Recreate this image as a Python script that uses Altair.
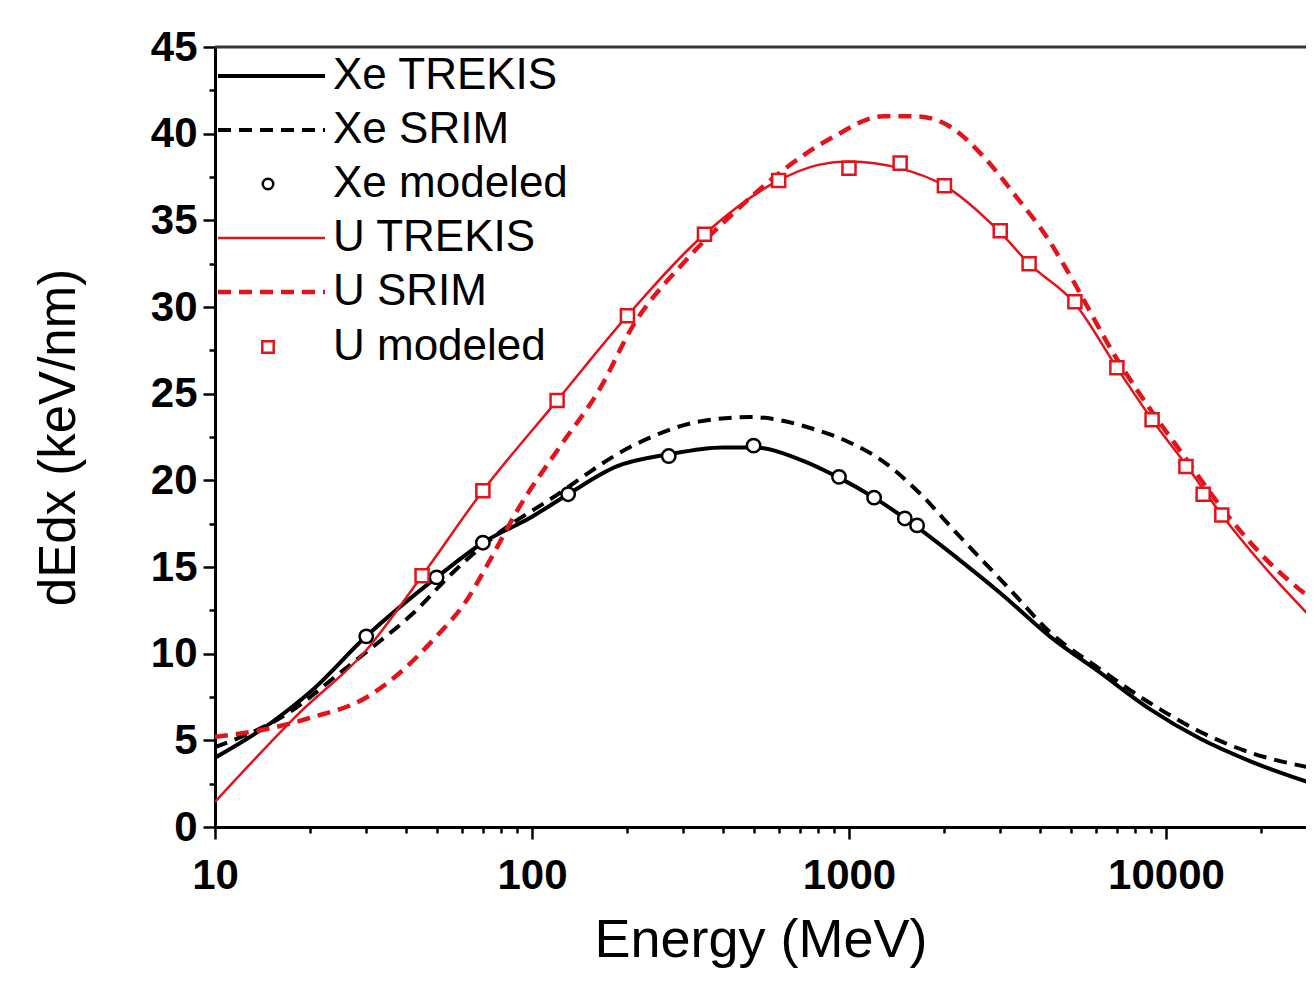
import altair as alt
import pandas as pd

# ---------------- data ----------------
XE_TREKIS_E = [10, 15, 20, 30, 50, 70, 100, 130, 185, 270, 400, 500, 700, 920, 1200, 1640, 2200, 3000, 4300, 6200, 8900, 12800, 18400, 29000]
XE_TREKIS_V = [4.0, 6.0, 7.8, 11.0, 14.4, 16.4, 17.9, 19.2, 20.8, 21.5, 21.9, 21.9, 21.2, 20.2, 19.0, 17.3, 15.5, 13.5, 11.0, 8.9, 6.8, 5.1, 3.8, 2.5]

XE_SRIM_E = [10, 17.6, 24.8, 31.5, 42, 56.4, 79, 114, 208, 339, 488, 792, 1000, 1280, 1640, 2200, 3220, 4300, 6200, 8900, 12800, 18400, 29000]
XE_SRIM_V = [4.6, 6.75, 8.9, 10.4, 12.3, 14.7, 17.0, 18.9, 22.0, 23.4, 23.65, 22.9, 22.2, 21.1, 19.4, 16.9, 13.7, 11.25, 9.1, 7.15, 5.5, 4.3, 3.4]

XE_MOD_E = [30, 50, 70, 130, 270, 500, 930, 1200, 1500, 1640]
XE_MOD_V = [11.0, 14.4, 16.4, 19.2, 21.4, 22.0, 20.2, 19.0, 17.8, 17.4]

U_TREKIS_E = [10, 18.5, 30, 45, 70, 120, 200, 350, 600, 800, 1000, 1450, 2000, 3000, 3700, 5160, 7000, 9040, 11560, 15000, 20000, 29000]
U_TREKIS_V = [1.45, 6.6, 10.2, 14.5, 19.4, 24.6, 29.5, 34.2, 37.3, 38.2, 38.4, 38.0, 37.0, 34.3, 32.5, 30.2, 26.5, 23.5, 20.9, 18.0, 15.2, 12.0]

U_SRIM_E = [10, 15, 20, 30.2, 38.3, 48.8, 62.3, 73.7, 91.5, 122, 164, 208, 299, 431, 620, 890, 1280, 1640, 2085, 2650, 3390, 4220, 4880, 7000, 9000, 11500, 15000, 20800, 29000]
U_SRIM_V = [5.2, 5.7, 6.3, 7.5, 8.9, 10.8, 13.1, 15.4, 18.5, 21.9, 25.3, 28.9, 32.5, 35.4, 37.9, 39.8, 41.0, 41.0, 40.4, 38.7, 36.3, 34.0, 32.1, 27.0, 24.0, 21.3, 18.4, 15.4, 13.1]

U_MOD_E = [45, 70, 120, 200, 350, 600, 1000, 1450, 2000, 3000, 3700, 5160, 7000, 9040, 11560, 13100, 15000]
U_MOD_V = [14.5, 19.4, 24.6, 29.5, 34.2, 37.3, 38.0, 38.3, 37.0, 34.4, 32.5, 30.3, 26.5, 23.5, 20.8, 19.2, 18.0]

X_TICKS = [10, 20, 30, 40, 50, 60, 70, 80, 90,
           100, 200, 300, 400, 500, 600, 700, 800, 900,
           1000, 2000, 3000, 4000, 5000, 6000, 7000, 8000, 9000,
           10000, 20000]
Y_TICKS = [0, 2.5, 5, 7.5, 10, 12.5, 15, 17.5, 20, 22.5, 25, 27.5, 30, 32.5, 35, 37.5, 40, 42.5, 45]

LEGEND_LABELS = ["Xe TREKIS", "Xe SRIM", "Xe modeled", "U TREKIS", "U SRIM", "U modeled"]

# ---------------- styling ----------------
RED = "#e3131b"
FONT = "Liberation Sans"
W, H = 1091, 780
XMIN, XMAX = 10, 27650

MAJ_X = "abs(log(datum.value)/LN10 - round(log(datum.value)/LN10)) < 0.001"
MAJ_Y = "datum.value % 5 == 0"

x_axis = alt.Axis(
    values=X_TICKS,
    tickSize={"condition": {"test": MAJ_X, "value": 12}, "value": 6},
    labelExpr=f"({MAJ_X}) ? format(datum.value, 'd') : ''",
    labelFont=FONT, labelFontWeight="bold", labelFontSize=42, labelColor="black",
    labelPadding=16, labelOverlap=False, labelFlush=False,
    domainColor="black", domainWidth=3, tickColor="black", tickWidth=2.5,
    title="Energy (MeV)", titleFont=FONT, titleFontSize=54, titleFontWeight="normal",
    titleColor="black", titlePadding=17, grid=False,
)
y_axis = alt.Axis(
    values=Y_TICKS,
    tickSize={"condition": {"test": MAJ_Y, "value": 12}, "value": 6},
    labelExpr=f"({MAJ_Y}) ? format(datum.value, 'd') : ''",
    labelFont=FONT, labelFontWeight="bold", labelFontSize=42, labelColor="black",
    labelPadding=6, labelOverlap=False, labelFlush=False,
    domainColor="black", domainWidth=3, tickColor="black", tickWidth=2.5,
    title="dEdx (keV/nm)", titleFont=FONT, titleFontSize=51, titleFontWeight="normal",
    titleColor="black", titlePadding=65, grid=False,
)

xenc = alt.X("E:Q", scale=alt.Scale(type="log", domain=[XMIN, XMAX], nice=False), axis=x_axis)
yenc = alt.Y("v:Q", scale=alt.Scale(domain=[0, 45], nice=False, zero=False), axis=y_axis)


def frame(E, V):
    return pd.DataFrame({"E": E, "v": V})


def line(E, V, color, width, dash=None):
    kw = dict(color=color, strokeWidth=width, interpolate="monotone", clip=True)
    if dash:
        kw["strokeDash"] = dash
    return alt.Chart(frame(E, V)).mark_line(**kw).encode(x=xenc, y=yenc)


def points(E, V, shape, color, size):
    return alt.Chart(frame(E, V)).mark_point(
        shape=shape, filled=True, fill="white", stroke=color, strokeWidth=2.5,
        size=size, opacity=1
    ).encode(x=xenc, y=yenc)


one = pd.DataFrame({"k": [0]})


def leg_line(y, color, width, dash=None):
    kw = dict(color=color, strokeWidth=width)
    if dash:
        kw["strokeDash"] = dash
    return alt.Chart(one).mark_rule(**kw).encode(x=alt.value(3), x2=alt.value(110), y=alt.value(y))


def leg_point(y, shape, color, size):
    return alt.Chart(one).mark_point(
        shape=shape, filled=True, fill="white", stroke=color, strokeWidth=2.5, size=size, opacity=1
    ).encode(x=alt.value(53), y=alt.value(y))


def leg_text(y, label):
    return alt.Chart(one).mark_text(
        text=label, align="left", baseline="middle", font=FONT, fontSize=44, color="black"
    ).encode(x=alt.value(118), y=alt.value(y))


ROWS = [29, 83, 137, 191, 245, 300]
DASH = [13, 8]

layers = [
    line(XE_SRIM_E, XE_SRIM_V, "black", 4, DASH),
    line(XE_TREKIS_E, XE_TREKIS_V, "black", 4),
    line(U_SRIM_E, U_SRIM_V, RED, 4.5, DASH),
    line(U_TREKIS_E, U_TREKIS_V, RED, 2.5),
    points(XE_MOD_E, XE_MOD_V, "circle", "black", 180),
    points(U_MOD_E, U_MOD_V, "square", RED, 170),
    alt.Chart(one).mark_rule(color="#333333", strokeWidth=3).encode(
        x=alt.value(0), x2=alt.value(W), y=alt.value(0)),
    leg_line(ROWS[0], "black", 4),
    leg_line(ROWS[1], "black", 4, DASH),
    leg_point(ROWS[2], "circle", "black", 110),
    leg_line(ROWS[3], RED, 2.5),
    leg_line(ROWS[4], RED, 4.5, DASH),
    leg_point(ROWS[5], "square", RED, 130),
]
layers += [leg_text(y, lab) for y, lab in zip(ROWS, LEGEND_LABELS)]

chart = alt.layer(*layers).properties(
    width=W, height=H,
    padding={"left": 207, "top": 39, "right": 0, "bottom": 148},
    autosize=alt.AutoSizeParams(type="none"),
    background="white",
).configure_view(stroke=None)

chart.save("out.html", embed_options={"renderer": "svg", "actions": False})
